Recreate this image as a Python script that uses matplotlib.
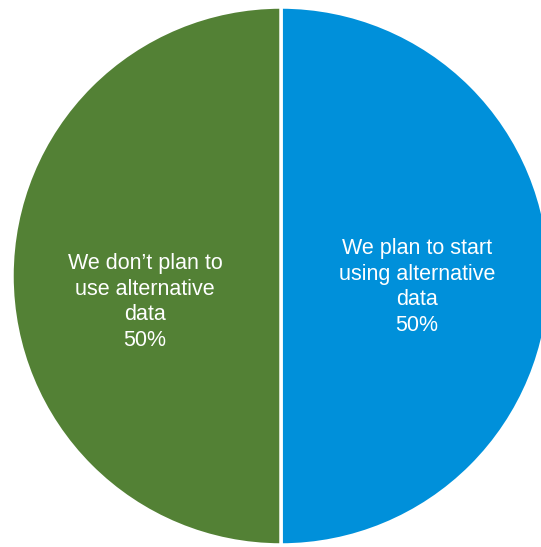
import matplotlib
matplotlib.use("Agg")
import matplotlib.pyplot as plt

labels = ["We plan to start\nusing alternative\ndata", "We don\u2019t plan to\nuse alternative\ndata"]
values = [50, 50]
colors = ["#0090DA", "#538135"]

W, H = 541, 547
fig = plt.figure(figsize=(W / 100, H / 100), dpi=100)
ax = fig.add_axes([0, 0, 1, 1])

cx, cy, r = 281, H - 276, 269
ax.pie(values, colors=colors, startangle=90, counterclock=False,
       center=(cx, cy), radius=r,
       wedgeprops=dict(edgecolor="white", linewidth=2.5))

ax.set_xlim(0, W)
ax.set_ylim(0, H)
ax.set_aspect("equal")
ax.axis("off")

label_pos = [(417, H - 287), (145, H - 302)]
total = sum(values)
for lab, v, (x, y) in zip(labels, values, label_pos):
    ax.text(x, y, f"{lab}\n{v / total:.0%}", ha="center", va="center",
            color="white", fontsize=15.5, family="Liberation Sans",
            linespacing=1.3)

fig.savefig("out.png", dpi=100)
